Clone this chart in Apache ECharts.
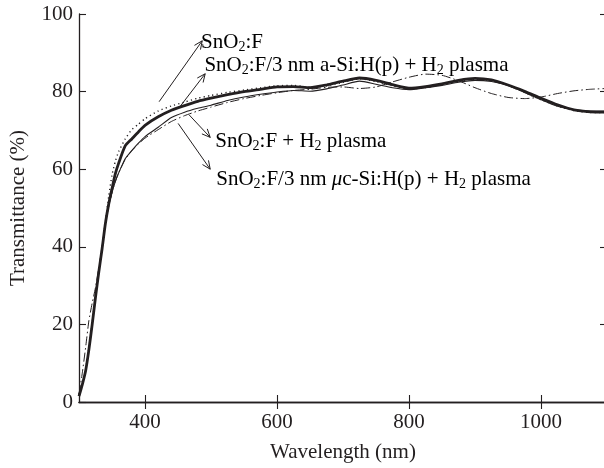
<!DOCTYPE html>
<html>
<head>
<meta charset="utf-8">
<script src="https://cdn.jsdelivr.net/npm/echarts@6/dist/echarts.min.js"></script>
<style>
  html, body { margin: 0; padding: 0; background: #fff; overflow: hidden; }
  #chart { width: 612px; height: 468px; }
</style>
</head>
<body>
<div id="chart"></div>
<script>
// wavelength (nm) sample points
const wavelengths = [300, 305, 310, 315, 320, 325, 330, 335, 340, 345, 350, 355, 360,
  370, 380, 390, 400, 420, 440, 460, 480, 500, 525, 550, 575, 600,
  625, 650, 675, 700, 725, 750, 775, 800, 825, 850, 875, 900, 925, 950,
  975, 1000, 1025, 1050, 1075, 1100];

// SnO2:F (dotted)
const snoF = [2, 4.8, 8.5, 14, 20.5, 27.5, 34, 40, 46.5, 53, 58.5, 62, 64.5,
  67.8, 70.2, 71.6, 73, 75, 76.3, 77.3, 78.3, 79, 79.8, 80.4, 81, 81.5,
  81.6, 81.1, 81.5, 82.4, 83.3, 82.6, 81.5, 80.7, 81, 81.8, 82.7, 83.2, 82.8, 81.6,
  79.8, 77.9, 76.3, 75.1, 74.6, 74.6];

// SnO2:F/3 nm a-Si:H(p) + H2 plasma (thick)
const aSi = [1.5, 4.5, 8, 13.5, 20, 27, 33.5, 39.5, 46, 51, 55, 58.8, 61.5,
  66, 67.8, 69.6, 71.3, 73.5, 75.2, 76.4, 77.5, 78.3, 79.2, 80, 80.6, 81.2,
  81.3, 81, 81.7, 82.7, 83.5, 82.9, 81.8, 80.9, 81.3, 82, 82.9, 83.4, 83, 81.7,
  80.1, 78.3, 76.6, 75.3, 74.8, 74.7];

// SnO2:F + H2 plasma (thin)
const h2Plasma = [1.5, 4.5, 8, 13.5, 20, 27, 33.5, 39.5, 46, 50.5, 54, 56.8, 59,
  62.7, 64.8, 66.7, 68.4, 70.8, 73.3, 74.7, 75.7, 76.5, 77.7, 78.6, 79.3, 79.9,
  80.3, 80.1, 80.7, 81.7, 82.7, 81.9, 81, 80.5, 81, 81.6, 82.4, 82.9, 82.6, 81.6,
  79.8, 77.9, 76.2, 75.3, 75, 75];

// SnO2:F/3 nm uc-Si:H(p) + H2 plasma (dash-dot)
const ucSi = [2, 7.5, 14, 21, 25.5, 29.5, 34.5, 40, 46, 50.5, 54, 56.8, 59,
  62.5, 64.8, 66.5, 68, 70.2, 72.3, 73.8, 75, 76, 77.2, 78.2, 79, 79.7,
  80.3, 80.6, 81.1, 81.2, 80.8, 81.2, 82.5, 83.7, 84.5, 84.2, 82.8, 81, 79.5, 78.5,
  78.2, 78.6, 79.5, 80.2, 80.6, 80.8];

const xTicks = [400, 600, 800, 1000];

// annotation labels: text anchor, arrow tail, arrow tip (data coords)
const notes = [
  { text: '{t|SnO}{s|2}{t|:F}', at: [485, 92.6], from: [421.4, 77.4], to: [486.7, 93.1] },
  { text: '{t|SnO}{s|2}{t|:F/3 nm a-Si:H(p) + H}{s|2}{t| plasma}', at: [490, 86.7], from: [453.3, 76.2], to: [491.2, 84.6] },
  { text: '{t|SnO}{s|2}{t|:F + H}{s|2}{t| plasma}', at: [506.4, 67.2], from: [466.9, 74.0], to: [498.8, 68.2] },
  { text: '{t|SnO}{s|2}{t|:F/3 nm }{i|\u03bc}{t|c-Si:H(p) + H}{s|2}{t| plasma}', at: [507.9, 57.4], from: [450.2, 71.8], to: [498.8, 60.0] }
];

const font = 'Liberation Serif';
const ink = '#231f20';
const fs = 21;

function pairs(ys) {
  return wavelengths.map((w, i) => [w, ys[i]]);
}

let chart = echarts.init(document.getElementById('chart'));

let option = {
  animation: false,
  backgroundColor: '#fff',
  grid: { left: 78, top: 14, bottom: 64, right: 5 },
  xAxis: [
    {
      type: 'value', min: 300, max: 1100,
      name: 'Wavelength (nm)', nameLocation: 'middle', nameGap: 40,
      nameTextStyle: { fontFamily: font, fontSize: fs, color: ink },
      axisLine: { lineStyle: { color: ink, width: 1.3 } },
      axisTick: { inside: true, length: 7, customValues: xTicks, lineStyle: { color: ink, width: 1.1 } },
      axisLabel: {
        customValues: xTicks, fontFamily: font, fontSize: fs, color: ink, margin: 10,
        formatter: (v) => String(v)
      },
      splitLine: { show: false }
    },
    {
      type: 'value', min: 300, max: 1100, position: 'top',
      axisLine: { lineStyle: { color: ink, width: 1.3 } },
      axisTick: { inside: true, length: 7, customValues: xTicks, lineStyle: { color: ink, width: 1.1 } },
      axisLabel: { show: false },
      splitLine: { show: false }
    }
  ],
  yAxis: [
    {
      type: 'value', min: 0, max: 100, interval: 20,
      name: 'Transmittance (%)', nameLocation: 'middle', nameGap: 50,
      nameTextStyle: { fontFamily: font, fontSize: fs, color: ink },
      axisLine: { lineStyle: { color: ink, width: 1.3 } },
      axisTick: { inside: true, length: 7, lineStyle: { color: ink, width: 1.1 } },
      axisLabel: { fontFamily: font, fontSize: fs, color: ink, margin: 6 },
      splitLine: { show: false }
    },
    {
      type: 'value', min: 0, max: 100, interval: 20, position: 'right',
      axisLine: { lineStyle: { color: ink, width: 1.3 } },
      axisTick: { inside: true, length: 7, lineStyle: { color: ink, width: 1.1 } },
      axisLabel: { show: false },
      splitLine: { show: false }
    }
  ],
  series: [
    {
      name: 'SnO2:F', type: 'line', data: pairs(snoF), smooth: 0.2,
      showSymbol: false, lineStyle: { color: ink, width: 1.4, type: [1.2, 3.2] }
    },
    {
      name: 'uc-Si', type: 'line', data: pairs(ucSi), smooth: 0.2,
      showSymbol: false, lineStyle: { color: ink, width: 1, type: [9, 3, 1.5, 3] }
    },
    {
      name: 'H2 plasma', type: 'line', data: pairs(h2Plasma), smooth: 0.2,
      showSymbol: false, lineStyle: { color: ink, width: 1.1 }
    },
    {
      name: 'a-Si', type: 'line', data: pairs(aSi), smooth: 0.2,
      showSymbol: false, lineStyle: { color: ink, width: 2.8 }
    }
  ]
};

chart.setOption(option);

// arrows and labels, placed from data coords
function px(p) {
  return chart.convertToPixel({ gridIndex: 0 }, p);
}

function arrowHead(tail, tip) {
  let a = Math.atan2(tip[1] - tail[1], tip[0] - tail[0]);
  let len = 9, w = 0.42;
  return [
    [tip[0] - len * Math.cos(a - w), tip[1] - len * Math.sin(a - w)],
    tip,
    [tip[0] - len * Math.cos(a + w), tip[1] - len * Math.sin(a + w)]
  ];
}

let rich = {
  t: { fontFamily: font, fontSize: fs, color: ink, lineHeight: 24 },
  s: { fontFamily: font, fontSize: 14, color: ink, lineHeight: 11, verticalAlign: 'bottom' },
  i: { fontFamily: font, fontSize: fs, fontStyle: 'italic', color: ink, lineHeight: 24 }
};

let graphics = [];
notes.forEach((n) => {
  let tail = px(n.from);
  let tip = px(n.to);
  let pos = px(n.at);
  graphics.push({
    type: 'polyline', silent: true,
    shape: { points: [tail, tip] },
    style: { stroke: ink, lineWidth: 1, fill: null }
  });
  graphics.push({
    type: 'polyline', silent: true,
    shape: { points: arrowHead(tail, tip) },
    style: { stroke: ink, lineWidth: 1, fill: null }
  });
  graphics.push({
    type: 'text', silent: true, x: pos[0], y: pos[1],
    style: { text: n.text, rich: rich, align: 'left', verticalAlign: 'middle' }
  });
});

chart.setOption({ graphic: graphics });
</script>
</body>
</html>
